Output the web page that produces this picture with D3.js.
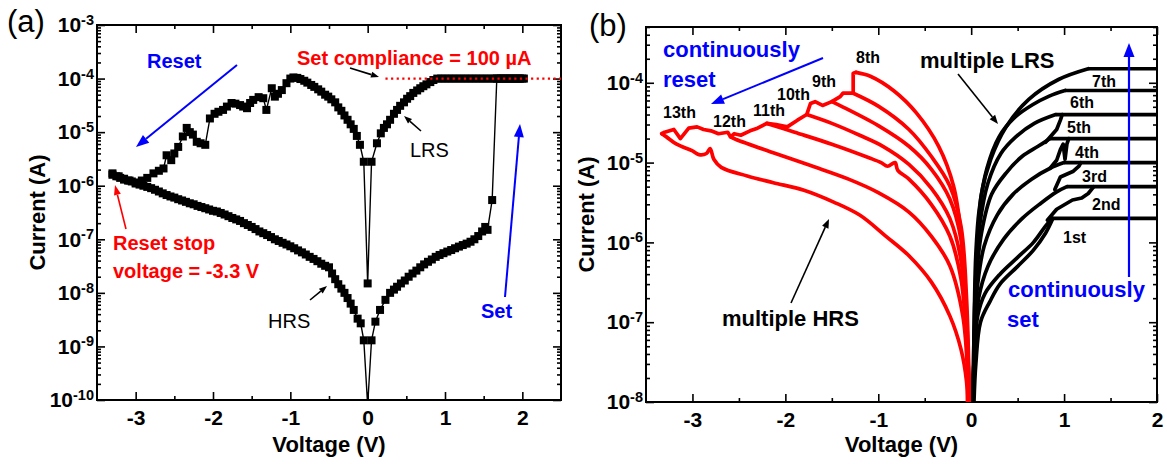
<!DOCTYPE html>
<html>
<head>
<meta charset="utf-8">
<script src="https://cdn.jsdelivr.net/npm/d3@7"></script>
<style>
  html, body { margin: 0; padding: 0; background: #fff; }
  svg { display: block; }
  text { font-family: "Liberation Sans", Arial, Helvetica, sans-serif; }
</style>
</head>
<body>
<svg id="fig" width="1167" height="464"></svg>
<script>
// ---------------- Panel (a): single I-V sweep (voltage in V, current in A) ----------------
// HRS set sweep 0 -> 1.61 V
const setHrsV = [0, 0.05, 0.1, 0.16, 0.23, 0.29, 0.34, 0.38, 0.43, 0.48, 0.53, 0.58, 0.63, 0.68, 0.73, 0.78, 0.83, 0.88, 0.93, 0.98, 1.03, 1.08, 1.13, 1.18, 1.23, 1.28, 1.33, 1.38, 1.43, 1.48, 1.52, 1.55, 1.61];
const setHrsI = [8e-11, 1.3e-9, 2.9e-9, 4.8e-9, 7.4e-9, 1e-8, 1.15e-8, 1.3e-8, 1.5e-8, 1.7e-8, 2e-8, 2.3e-8, 2.6e-8, 3e-8, 3.4e-8, 3.8e-8, 4.2e-8, 4.7e-8, 5.1e-8, 5.5e-8, 5.9e-8, 6.3e-8, 6.8e-8, 7.3e-8, 7.8e-8, 8.3e-8, 9e-8, 1e-7, 1.15e-7, 1.4e-7, 1.7e-7, 1.5e-7, 5.4e-7];
// compliance-limited part, up to 2 V and back
const compV = [1.67, 1.72, 1.77, 1.82, 1.87, 1.92, 1.97, 2.02, 2.0, 1.95, 1.9, 1.85, 1.8, 1.75, 1.7, 1.65, 1.6, 1.55, 1.5, 1.45, 1.4, 1.35, 1.3, 1.25, 1.2, 1.15, 1.1, 1.05, 1.0, 0.95, 0.9];
const compI = [1e-4, 1e-4, 1e-4, 1e-4, 1e-4, 1e-4, 1e-4, 1e-4, 1e-4, 1e-4, 1e-4, 1e-4, 1e-4, 1e-4, 1e-4, 1e-4, 1e-4, 1e-4, 1e-4, 1e-4, 1e-4, 1e-4, 1e-4, 1e-4, 1e-4, 1e-4, 1e-4, 1e-4, 1e-4, 1e-4, 1e-4];
// LRS sweep 0.85 -> 0 -> -1 V
const lrsV = [0.85, 0.81, 0.76, 0.72, 0.68, 0.64, 0.59, 0.55, 0.51, 0.47, 0.42, 0.38, 0.34, 0.29, 0.25, 0.21, 0.17, 0.12, 0.05, 0, -0.05, -0.1, -0.14, -0.18, -0.22, -0.26, -0.3, -0.34, -0.38, -0.42, -0.47, -0.51, -0.55, -0.6, -0.64, -0.69, -0.73, -0.78, -0.82, -0.87, -0.91, -0.96, -1.0];
const lrsI = [9.4e-5, 8.6e-5, 7.8e-5, 7.2e-5, 6.6e-5, 6e-5, 5.4e-5, 4.7e-5, 4.2e-5, 3.6e-5, 3.1e-5, 2.6e-5, 2.2e-5, 1.7e-5, 1.4e-5, 1.2e-5, 9.5e-6, 6.2e-6, 2.8e-6, 1.5e-8, 2.8e-6, 5.8e-6, 8.5e-6, 1.15e-5, 1.4e-5, 1.7e-5, 2.05e-5, 2.5e-5, 2.9e-5, 3.6e-5, 4.1e-5, 4.6e-5, 5e-5, 5.7e-5, 6.3e-5, 7e-5, 7.6e-5, 8.4e-5, 9.1e-5, 9.8e-5, 1.03e-4, 1.05e-4, 1.0e-4];
// reset sweep -1 -> -3.3 V
const resetV = [-1.05, -1.11, -1.16, -1.2, -1.24, -1.31, -1.35, -1.41, -1.48, -1.52, -1.56, -1.61, -1.65, -1.71, -1.76, -1.82, -1.87, -1.93, -1.98, -2.04, -2.1, -2.16, -2.21, -2.26, -2.3, -2.34, -2.39, -2.45, -2.5, -2.54, -2.6, -2.64, -2.7, -2.77, -2.85, -2.92, -3.0, -3.08, -3.15, -3.22, -3.3];
const resetI = [8.2e-5, 6.1e-5, 5.2e-5, 4.6e-5, 6.6e-5, 2.6e-5, 4.3e-5, 4.5e-5, 4e-5, 3.5e-5, 2.8e-5, 3e-5, 3.2e-5, 3.4e-5, 3.5e-5, 3e-5, 2.6e-5, 2.4e-5, 2.2e-5, 1.8e-5, 5.8e-6, 6.2e-6, 6.6e-6, 9e-6, 1e-5, 1.2e-5, 8.3e-6, 5.3e-6, 4e-6, 3e-6, 3.7e-6, 2.1e-6, 1.9e-6, 1.7e-6, 1.4e-6, 1.25e-6, 1.15e-6, 1.25e-6, 1.35e-6, 1.5e-6, 1.7e-6];
// HRS return sweep -3.3 -> 0 V
const hrsV = [-3.3, -3.25, -3.2, -3.15, -3.1, -3.05, -3.0, -2.95, -2.9, -2.85, -2.8, -2.75, -2.7, -2.65, -2.6, -2.55, -2.5, -2.45, -2.4, -2.35, -2.3, -2.25, -2.2, -2.15, -2.1, -2.05, -2.0, -1.95, -1.9, -1.85, -1.8, -1.75, -1.7, -1.65, -1.6, -1.55, -1.5, -1.45, -1.4, -1.35, -1.3, -1.25, -1.2, -1.15, -1.1, -1.05, -1.0, -0.95, -0.9, -0.85, -0.8, -0.75, -0.7, -0.65, -0.6, -0.55, -0.5, -0.46, -0.42, -0.38, -0.34, -0.3, -0.26, -0.22, -0.18, -0.13, -0.09, -0.05, 0];
const hrsI = [1.6e-6, 1.5e-6, 1.4e-6, 1.3e-6, 1.25e-6, 1.2e-6, 1.1e-6, 1.05e-6, 1e-6, 9.5e-7, 9e-7, 8.4e-7, 7.8e-7, 7.2e-7, 6.7e-7, 6.3e-7, 6e-7, 5.6e-7, 5.3e-7, 5e-7, 4.7e-7, 4.5e-7, 4.2e-7, 4e-7, 3.8e-7, 3.6e-7, 3.4e-7, 3.3e-7, 3.1e-7, 2.9e-7, 2.7e-7, 2.5e-7, 2.35e-7, 2.2e-7, 2e-7, 1.85e-7, 1.7e-7, 1.55e-7, 1.4e-7, 1.3e-7, 1.2e-7, 1.1e-7, 1e-7, 9.3e-8, 8.6e-8, 8e-8, 7.4e-8, 6.8e-8, 6.2e-8, 5.7e-8, 5.2e-8, 4.7e-8, 4.3e-8, 3.9e-8, 3.5e-8, 3.2e-8, 3e-8, 2.3e-8, 1.8e-8, 1.45e-8, 1.2e-8, 1e-8, 8e-9, 6.3e-9, 4.8e-9, 3.3e-9, 2.7e-9, 1.3e-9, 8e-11];
// compliance marker line
const complianceA = { from: 0.23, to: 2.5, current: 1e-4 };

// ---------------- Panel (b): multilevel set (black) and reset (red) ----------------
// set: compliance levels (A) and the voltage where each LRS branch leaves its level
const setLevels = [2e-6, 5e-6, 1e-5, 2e-5, 4e-5, 8e-5, 1.5e-4];
const setLevelStartV = [0.87, 1.03, 1.0, 0.85, 0.91, 1.01, 1.26];
const setLabels = ["1st", "2nd", "3rd", "4th", "5th", "6th", "7th"];
// LRS branches [V, I] per level
const hrs0 = [[0.03, 1e-8], [0.05, 3e-8], [0.1, 1e-7], [0.2, 1.8e-7], [0.31, 3e-7], [0.5, 5e-7], [0.67, 8e-7], [0.8, 1.3e-6], [0.88, 2e-6]];
const lrs1 = [[0.02, 1e-8], [0.04, 4e-8], [0.07, 1.2e-7], [0.15, 2.3e-7], [0.31, 4e-7], [0.5, 6.5e-7], [0.67, 1e-6], [0.8, 1.6e-6], [0.87, 2e-6]];
const lrs2 = [[0.02, 1e-8], [0.04, 6e-8], [0.08, 2e-7], [0.18, 5e-7], [0.35, 1.1e-6], [0.55, 2e-6], [0.75, 3.1e-6], [0.92, 4.3e-6], [1.03, 5e-6]];
const lrs3 = [[0.02, 1e-8], [0.04, 8e-8], [0.07, 3e-7], [0.14, 9e-7], [0.28, 2.2e-6], [0.45, 4e-6], [0.65, 6.2e-6], [0.85, 8.5e-6], [1.0, 1e-5]];
const lrs4 = [[0.02, 1e-8], [0.04, 1e-7], [0.06, 4e-7], [0.11, 1.3e-6], [0.22, 4e-6], [0.38, 7.5e-6], [0.55, 1.2e-5], [0.72, 1.6e-5], [0.85, 2e-5]];
const lrs5 = [[0.02, 1e-8], [0.035, 1.2e-7], [0.055, 5e-7], [0.09, 1.6e-6], [0.18, 5.5e-6], [0.32, 1.3e-5], [0.48, 2.1e-5], [0.68, 3.1e-5], [0.91, 4e-5]];
const lrs6 = [[0.02, 1e-8], [0.035, 1.5e-7], [0.05, 7e-7], [0.085, 2.5e-6], [0.17, 8.5e-6], [0.3, 2.1e-5], [0.46, 3.6e-5], [0.66, 5.3e-5], [0.84, 6.8e-5], [1.01, 8e-5]];
const lrs7 = [[0.02, 1e-8], [0.04, 1e-7], [0.06, 5e-7], [0.08, 1.5e-6], [0.11, 4e-6], [0.21, 1.1e-5], [0.375, 2.8e-5], [0.62, 6.2e-5], [0.94, 1.1e-4], [1.26, 1.5e-4]];
// set transitions onto the next level
const setTail2 = [[0.82, 1.9e-6], [0.92, 2.6e-6], [1.09, 3.4e-6], [1.19, 3.6e-6], [1.26, 4.1e-6], [1.32, 5e-6]];
const setTail3 = [[0.9, 4.6e-6], [0.96, 6.6e-6], [1.1, 7.8e-6], [1.16, 9e-6], [1.18, 1e-5]];
const setTail4 = [[0.85, 8.5e-6], [0.92, 1.07e-5], [0.96, 1.45e-5], [0.99, 1.7e-5], [1.01, 1.1e-5], [1.03, 1.7e-5], [1.05, 2e-5]];
const setTail5 = [[0.8, 1.8e-5], [0.92, 2.6e-5], [0.96, 3.4e-5], [0.98, 4e-5]];

// reset: outer LRS branch, noisy reset path, and HRS return branches
const resetLabels = ["8th", "9th", "10th", "11th", "12th", "13th"];
const redUpper = [[-0.02, 1e-8], [-0.04, 5e-8], [-0.07, 2e-7], [-0.11, 1.3e-6], [-0.19, 5.1e-6], [-0.35, 1.6e-5], [-0.59, 4.2e-5], [-0.83, 7.9e-5], [-1.08, 1.2e-4], [-1.24, 1.35e-4]];
const redReset = [[-1.24, 1.35e-4], [-1.27, 1.32e-4], [-1.27, 7.4e-5], [-1.38, 7.4e-5], [-1.41, 6.7e-5], [-1.5, 5.8e-5], [-1.6, 5.2e-5], [-1.68, 5.8e-5], [-1.73, 5.5e-5], [-1.77, 4e-5], [-1.87, 3.4e-5], [-1.98, 2.8e-5], [-2.1, 3e-5], [-2.2, 3.1e-5], [-2.3, 2.7e-5], [-2.38, 2.5e-5], [-2.48, 2.2e-5], [-2.55, 2.3e-5], [-2.59, 2.1e-5], [-2.62, 2.4e-5], [-2.72, 2.3e-5], [-2.8, 2.5e-5], [-2.88, 2.6e-5], [-2.95, 2.8e-5], [-3.04, 2.7e-5], [-3.13, 2e-5], [-3.2, 2.6e-5], [-3.3, 2.4e-5], [-3.33, 2.3e-5]];
const redLower8 = [[-1.27, 7.4e-5], [-1.0, 5.1e-5], [-0.67, 2.6e-5], [-0.43, 1.2e-5], [-0.23, 5.1e-6], [-0.11, 1.6e-6], [-0.05, 2e-7], [-0.02, 1e-8]];
const redLower9 = [[-1.5, 5.8e-5], [-1.4, 5.1e-5], [-1.0, 2.9e-5], [-0.67, 1.6e-5], [-0.43, 8.3e-6], [-0.23, 3.5e-6], [-0.11, 1.1e-6], [-0.05, 1.2e-7], [-0.02, 1e-8]];
const redLower10 = [[-1.77, 4e-5], [-1.5, 3.1e-5], [-1.2, 2.2e-5], [-0.95, 1.6e-5], [-0.67, 9.5e-6], [-0.43, 4.8e-6], [-0.23, 2e-6], [-0.11, 6e-7], [-0.05, 8e-8], [-0.02, 1e-8]];
const redLower11 = [[-2.2, 3.1e-5], [-1.9, 2.4e-5], [-1.5, 1.7e-5], [-1.1, 1.15e-5], [-0.97, 1e-5], [-0.9, 9e-6], [-0.82, 1e-5], [-0.79, 8e-6], [-0.67, 6.2e-6], [-0.43, 3e-6], [-0.23, 1.2e-6], [-0.11, 3.5e-7], [-0.05, 6e-8], [-0.02, 1e-8]];
const redLower12 = [[-2.59, 2.1e-5], [-2.53, 1.95e-5], [-2.13, 1.33e-5], [-1.72, 9.1e-6], [-1.32, 6.2e-6], [-1.0, 4.2e-6], [-0.67, 2.4e-6], [-0.43, 1.2e-6], [-0.23, 5.1e-7], [-0.09, 1.2e-7], [-0.04, 2.5e-8], [-0.03, 1e-8]];
const redLower13 = [[-3.33, 2.3e-5], [-3.28, 2.1e-5], [-3.17, 1.7e-5], [-3.0, 1.4e-5], [-2.93, 1.26e-5], [-2.85, 1.3e-5], [-2.81, 1.5e-5], [-2.77, 1.1e-5], [-2.69, 8.7e-6], [-2.41, 6.8e-6], [-2.13, 5.6e-6], [-1.8, 4.5e-6], [-1.48, 3.2e-6], [-1.2, 2.2e-6], [-0.92, 1.2e-6], [-0.67, 6.8e-7], [-0.43, 3.2e-7], [-0.23, 1.2e-7], [-0.11, 4.6e-8], [-0.05, 1.8e-8], [-0.04, 1e-8]];

// axis tick values
const xTicksA = [-3, -2, -1, 0, 1, 2];
const xMinorA = [-2.5, -1.5, -0.5, 0.5, 1.5];
const yDecadesA = [1e-10, 1e-9, 1e-8, 1e-7, 1e-6, 1e-5, 1e-4, 1e-3];
const xTicksB = [-3, -2, -1, 0, 1, 2];
const xMinorB = [-2.5, -1.5, -0.5, 0.5, 1.5];
const yDecadesB = [1e-8, 1e-7, 1e-6, 1e-5, 1e-4];

// ---------------- drawing ----------------
const RED = "#ff0000", BLUE = "#0000ff";
const svg = d3.select("#fig");

const xA = d3.scaleLinear().domain([-3.5, 2.5]).range([97, 561]);
const yA = d3.scaleLog().domain([1e-10, 1e-3]).range([400, 25]);
const xB = d3.scaleLinear().domain([-3.5, 2]).range([646, 1157]);
const yB = d3.scaleLog().domain([1e-8, 5e-4]).range([402, 27]);

function logMinors(domain) {
  const out = [];
  const lo = Math.floor(Math.log10(domain[0])), hi = Math.ceil(Math.log10(domain[1]));
  for (let e = lo; e < hi; e++) for (let k = 2; k <= 9; k++) {
    const v = k * Math.pow(10, e);
    if (v > domain[0] * 1.0001 && v < domain[1] * 1.0001) out.push(v);
  }
  return out;
}

function styleAxis(g) {
  g.select(".domain").remove();
  g.selectAll(".tick line").attr("stroke", "#000").attr("stroke-width", 1.6);
  g.attr("font-family", null).attr("font-size", null);
}

function drawFrame(x, y, xMaj, xMin, yDec) {
  const [x0, x1] = x.range(), [yb, yt] = y.range();
  const g = svg.append("g");
  const yMin = logMinors(y.domain());
  // bottom
  g.append("g").attr("transform", `translate(0,${yb})`)
    .call(d3.axisBottom(x).tickValues(xMaj).tickSizeInner(-8).tickSizeOuter(0).tickPadding(10).tickFormat(d => String(d)))
    .call(styleAxis)
    .call(s => s.selectAll("text").attr("font-size", 21).attr("font-weight", "bold").attr("fill", "#000"));
  g.append("g").attr("transform", `translate(0,${yb})`)
    .call(d3.axisBottom(x).tickValues(xMin).tickSizeInner(-4).tickSizeOuter(0).tickFormat(""))
    .call(styleAxis);
  // top
  g.append("g").attr("transform", `translate(0,${yt})`)
    .call(d3.axisTop(x).tickValues(xMaj).tickSizeInner(-8).tickSizeOuter(0).tickFormat(""))
    .call(styleAxis);
  g.append("g").attr("transform", `translate(0,${yt})`)
    .call(d3.axisTop(x).tickValues(xMin).tickSizeInner(-4).tickSizeOuter(0).tickFormat(""))
    .call(styleAxis);
  // left
  g.append("g").attr("transform", `translate(${x0},0)`)
    .call(d3.axisLeft(y).tickValues(yDec).tickSizeInner(-8).tickSizeOuter(0).tickPadding(3))
    .call(styleAxis)
    .call(s => s.selectAll(".tick text").each(function (d) {
      const t = d3.select(this).attr("font-size", 21).attr("font-weight", "bold").attr("fill", "#000").text(null);
      t.append("tspan").text("10");
      t.append("tspan").attr("dy", "-0.5em").attr("font-size", 14.5).text(String(Math.round(Math.log10(d))));
    }));
  g.append("g").attr("transform", `translate(${x0},0)`)
    .call(d3.axisLeft(y).tickValues(yMin).tickSizeInner(-4).tickSizeOuter(0).tickFormat(""))
    .call(styleAxis);
  // right
  g.append("g").attr("transform", `translate(${x1},0)`)
    .call(d3.axisRight(y).tickValues(yDec).tickSizeInner(-8).tickSizeOuter(0).tickFormat(""))
    .call(styleAxis);
  g.append("g").attr("transform", `translate(${x1},0)`)
    .call(d3.axisRight(y).tickValues(yMin).tickSizeInner(-4).tickSizeOuter(0).tickFormat(""))
    .call(styleAxis);
  // frame
  g.append("rect").attr("x", x0).attr("y", yt).attr("width", x1 - x0).attr("height", yb - yt)
    .attr("fill", "none").attr("stroke", "#000").attr("stroke-width", 2);
  // titles
  g.append("text").attr("x", (x0 + x1) / 2).attr("y", 452).attr("text-anchor", "middle")
    .attr("font-size", 22).attr("font-weight", "bold").text("Voltage (V)");
  g.append("text").attr("transform", `translate(${x0 - 60},${(yb + yt) / 2}) rotate(-90)`)
    .attr("text-anchor", "middle").attr("dy", "0.35em")
    .attr("font-size", 22).attr("font-weight", "bold").text("Current (A)");
  return g;
}

function clip(id, x, y) {
  const [x0, x1] = x.range(), [yb, yt] = y.range();
  svg.append("clipPath").attr("id", id).append("rect")
    .attr("x", x0).attr("y", yt).attr("width", x1 - x0).attr("height", yb - yt);
}

function arrow(g, x1, y1, x2, y2, color, width, headLen, headW) {
  const ang = Math.atan2(y2 - y1, x2 - x1);
  const bx = x2 - headLen * Math.cos(ang), by = y2 - headLen * Math.sin(ang);
  g.append("line").attr("x1", x1).attr("y1", y1).attr("x2", bx).attr("y2", by)
    .attr("stroke", color).attr("stroke-width", width);
  const px = Math.sin(ang) * headW / 2, py = -Math.cos(ang) * headW / 2;
  g.append("path").attr("d", `M${x2},${y2}L${bx + px},${by + py}L${bx - px},${by - py}Z`).attr("fill", color);
}

function label(g, x, y, txt, opts) {
  return g.append("text").attr("x", x).attr("y", y)
    .attr("font-size", opts.size).attr("font-weight", opts.bold ? "bold" : "normal")
    .attr("fill", opts.color || "#000").text(txt);
}

// ===== panel (a) =====
clip("clipA", xA, yA);
drawFrame(xA, yA, xTicksA, xMinorA, yDecadesA);
svg.append("text").attr("x", 7).attr("y", 32).attr("font-family", "Lato, 'Open Sans', sans-serif")
  .attr("font-size", 31).text("(a)");

const sweepV = [].concat(setHrsV, compV, lrsV, resetV, hrsV);
const sweepI = [].concat(setHrsI, compI, lrsI, resetI, hrsI);
const sweep = sweepV.map((v, i) => ({ v, i: sweepI[i] }));

const gA = svg.append("g").attr("clip-path", "url(#clipA)");
gA.append("path").datum(sweep)
  .attr("d", d3.line().x(d => xA(d.v)).y(d => yA(d.i)))
  .attr("fill", "none").attr("stroke", "#000").attr("stroke-width", 1.4);
const ms = 8;
gA.selectAll("rect.pt").data(sweep).join("rect").attr("class", "pt")
  .attr("x", d => xA(d.v) - ms / 2).attr("y", d => yA(d.i) - ms / 2)
  .attr("width", ms).attr("height", ms).attr("fill", "#000");
gA.append("line")
  .attr("x1", xA(complianceA.from)).attr("x2", xA(complianceA.to))
  .attr("y1", yA(complianceA.current)).attr("y2", yA(complianceA.current))
  .attr("stroke", RED).attr("stroke-width", 2.2).attr("stroke-dasharray", "2.2 3.4");

const annA = svg.append("g");
label(annA, 147, 68, "Reset", { size: 20, bold: true, color: BLUE });
arrow(annA, 237, 65, 136, 147, BLUE, 2, 13, 10);
label(annA, 297, 65, "Set compliance = 100 \u00b5A", { size: 20, bold: true, color: RED });
arrow(annA, 350, 68, 379, 77, "#000", 1.6, 8, 6);
label(annA, 410, 157, "LRS", { size: 20 });
arrow(annA, 421, 131, 404, 116, "#000", 1.6, 8, 6);
label(annA, 268, 328, "HRS", { size: 20 });
arrow(annA, 310, 300, 327, 286, "#000", 1.6, 8, 6);
label(annA, 113, 250, "Reset stop", { size: 20, bold: true, color: RED });
label(annA, 113, 278, "voltage = -3.3 V", { size: 20, bold: true, color: RED });
arrow(annA, 126, 229, 115, 185, RED, 1.6, 10, 7);
label(annA, 481, 318, "Set", { size: 20, bold: true, color: BLUE });
arrow(annA, 505, 297, 520, 124, BLUE, 2, 13, 10);

// ===== panel (b) =====
clip("clipB", xB, yB);
drawFrame(xB, yB, xTicksB, xMinorB, yDecadesB);
svg.append("text").attr("x", 589).attr("y", 36).attr("font-family", "Lato, 'Open Sans', sans-serif")
  .attr("font-size", 31).text("(b)");

const gB = svg.append("g").attr("clip-path", "url(#clipB)");
const smooth = d3.line().x(d => xB(d[0])).y(d => yB(d[1])).curve(d3.curveCatmullRom.alpha(0.5));
const straight = d3.line().x(d => xB(d[0])).y(d => yB(d[1]));
const LW = 3.7;

// red reset family
[redLower13, redLower12, redLower11, redLower10, redLower9, redLower8, redUpper].forEach(br => {
  gB.append("path").attr("d", smooth(br)).attr("fill", "none")
    .attr("stroke", RED).attr("stroke-width", LW).attr("stroke-linejoin", "round").attr("stroke-linecap", "round");
});
gB.append("path").attr("d", straight(redReset)).attr("fill", "none")
  .attr("stroke", RED).attr("stroke-width", LW).attr("stroke-linejoin", "round").attr("stroke-linecap", "round");

// black set family
[hrs0, lrs1, lrs2, lrs3, lrs4, lrs5, lrs6, lrs7].forEach(br => {
  gB.append("path").attr("d", smooth(br)).attr("fill", "none")
    .attr("stroke", "#000").attr("stroke-width", LW).attr("stroke-linejoin", "round").attr("stroke-linecap", "round");
});
[setTail2, setTail3, setTail4, setTail5].forEach(br => {
  gB.append("path").attr("d", straight(br)).attr("fill", "none")
    .attr("stroke", "#000").attr("stroke-width", LW).attr("stroke-linejoin", "round").attr("stroke-linecap", "round");
});
gB.selectAll("line.level").data(setLevels).join("line").attr("class", "level")
  .attr("x1", (d, i) => xB(setLevelStartV[i])).attr("x2", xB(2.05))
  .attr("y1", d => yB(d)).attr("y2", d => yB(d))
  .attr("stroke", "#000").attr("stroke-width", LW);

const annB = svg.append("g");
// level labels
const setLabelPos = [[1063, 243], [1092, 210], [1082, 182], [1075, 158], [1067, 133], [1070, 108], [1092, 87]];
setLabels.forEach((t, i) => label(annB, setLabelPos[i][0], setLabelPos[i][1], t, { size: 16, bold: true }));
const resetLabelPos = [[856, 63], [812, 87], [777, 100], [753, 116], [713, 127], [663, 118]];
resetLabels.forEach((t, i) => label(annB, resetLabelPos[i][0], resetLabelPos[i][1], t, { size: 16, bold: true }));

label(annB, 663, 57, "continuously", { size: 22, bold: true, color: BLUE });
label(annB, 663, 87, "reset", { size: 22, bold: true, color: BLUE });
arrow(annB, 823, 58, 711, 104, BLUE, 2, 13, 10);
label(annB, 920, 68, "multiple LRS", { size: 22, bold: true });
arrow(annB, 958, 74, 998, 124, "#000", 1.6, 9, 7);
label(annB, 722, 326, "multiple HRS", { size: 22, bold: true });
arrow(annB, 791, 303, 829, 219, "#000", 1.6, 9, 7);
label(annB, 1008, 297, "continuously", { size: 22, bold: true, color: BLUE });
label(annB, 1007, 327, "set", { size: 22, bold: true, color: BLUE });
arrow(annB, 1129, 277, 1129, 43, BLUE, 2.2, 14, 11);
</script>
</body>
</html>
